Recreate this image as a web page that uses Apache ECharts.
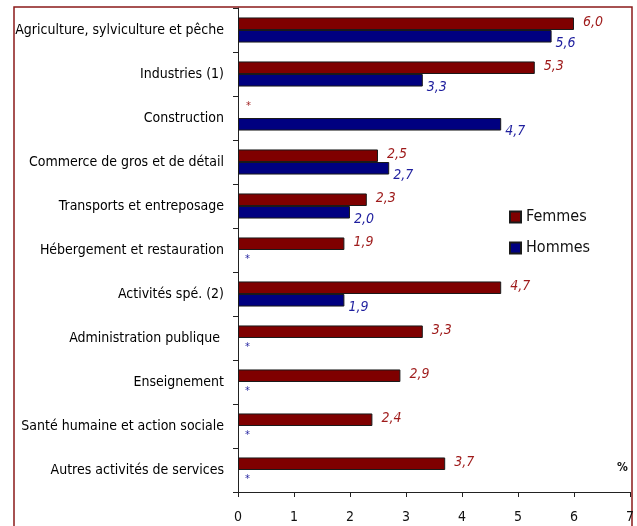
<!DOCTYPE html>
<html lang="fr">
<head>
<meta charset="UTF-8">
<title>Secteurs</title>
<script src="https://cdn.jsdelivr.net/npm/echarts@6/dist/echarts.min.js"></script>
<style>
  html, body { margin: 0; padding: 0; background: #fff; }
  #chart { width: 637px; height: 526px; }
</style>
</head>
<body>
<div id="chart"></div>
<script>
// données (null = non significatif, affiché "*")
var categories = ['Agriculture, sylviculture et pêche', 'Industries (1)', 'Construction',
  'Commerce de gros et de détail', 'Transports et entreposage', 'Hébergement et restauration',
  'Activités spé. (2)', 'Administration publique ', 'Enseignement',
  'Santé humaine et action sociale', 'Autres activités de services'];
var femmes = [6.0, 5.3, null, 2.5, 2.3, 1.9, 4.7, 3.3, 2.9, 2.4, 3.7];
var hommes = [5.6, 3.3, 4.7, 2.7, 2.0, null, 1.9, null, null, null, null];
var xTicks = [0, 1, 2, 3, 4, 5, 6, 7];

var FONT = '"Liberation Sans Narrow", "DejaVu Sans Condensed", "Liberation Sans", sans-serif';

function fmt(p) {
  return p.value.toFixed(1).replace('.', ',');
}

function makeData(values, color, valOffset, starOffset) {
  return values.map(function (v) {
    if (v === null) {
      return {
        value: 0,
        itemStyle: { borderWidth: 0 },
        label: {
          show: true, position: 'insideLeft', formatter: '*',
          color: color, fontSize: 11, fontStyle: 'normal', offset: starOffset
        }
      };
    }
    return {
      value: v,
      label: { show: true, position: 'right', offset: valOffset, formatter: fmt }
    };
  });
}

var chart = echarts.init(document.getElementById('chart'));
var option = {
  animation: false,
  grid: { left: 238, right: 7, top: 8, bottom: 34 },
  legend: {
    orient: 'vertical',
    left: 509, top: 209, padding: 0,
    itemWidth: 11, itemHeight: 11, itemGap: 15,
    icon: 'rect',
    textStyle: { fontFamily: FONT, fontSize: 16, color: '#111' },
    data: ['Femmes', 'Hommes']
  },
  xAxis: {
    type: 'value', min: xTicks[0], max: xTicks[xTicks.length - 1], interval: 1,
    axisLine: { show: true, lineStyle: { color: '#222' } },
    axisTick: { show: true, length: 5, lineStyle: { color: '#222' } },
    axisLabel: { fontFamily: FONT, fontSize: 14, color: '#111', margin: 18 },
    splitLine: { show: false }
  },
  yAxis: {
    type: 'category', inverse: true, data: categories,
    axisLine: { show: true, lineStyle: { color: '#222' } },
    axisTick: { show: true, length: 5, lineStyle: { color: '#222' } },
    axisLabel: { fontFamily: FONT, fontSize: 14, color: '#000', margin: 14 }
  },
  series: [
    {
      name: 'Femmes', type: 'bar',
      barGap: '0%', barCategoryGap: '43%',
      itemStyle: { color: '#7f0000', borderColor: '#1a1a1a', borderWidth: 1 },
      label: { color: '#9e1a1a', fontFamily: FONT, fontSize: 14, fontStyle: 'italic', distance: 9 },
      data: makeData(femmes, '#9e1a1a', [0, -1], [-1, -6])
    },
    {
      name: 'Hommes', type: 'bar',
      itemStyle: { color: '#000080', borderColor: '#1a1a1a', borderWidth: 1 },
      label: { color: '#1f1f9e', fontFamily: FONT, fontSize: 14, fontStyle: 'italic', distance: 4 },
      data: makeData(hommes, '#1f1f9e', [0, 7], [3, 3])
    }
  ],
  graphic: [
    {
      type: 'rect', silent: true,
      shape: { x: 14, y: 7, width: 618, height: 540 },
      style: { fill: 'none', stroke: '#8b1a1a', lineWidth: 1.5 }
    },
    {
      type: 'text', left: 617, top: 462,
      style: { text: '%', fontFamily: FONT, fontSize: 12, fontWeight: 'bold', fill: '#111' }
    }
  ]
};
chart.setOption(option);
</script>
</body>
</html>
